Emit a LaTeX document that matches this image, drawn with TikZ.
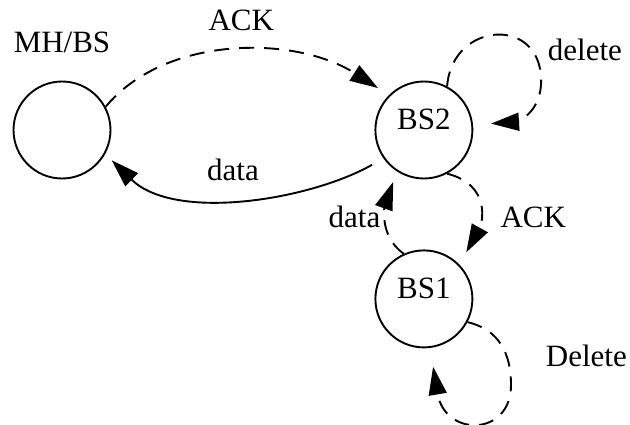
\documentclass[tikz,border=0pt]{standalone}
\usepackage{fontspec}
\setmainfont{Liberation Serif}
\usetikzlibrary{arrows.meta, positioning}

\begin{document}
\begin{tikzpicture}[
    x=1pt, y=-1pt,
    node distance=70pt and 263pt,
    font=\fontsize{31}{36}\selectfont,
    state/.style={draw, circle, line width=1.9pt, minimum size=97pt, inner sep=0pt, text depth=22pt},
    lbl/.style={inner sep=0pt},
    arr/.style={-{Triangle[length=28pt, width=18pt]}, line width=1.9pt},
    dashline/.style={dash pattern=on 15pt off 10pt},
  ]
    \useasboundingbox (0,0) rectangle (630,424);

    \node[state] (mh) at (62,130) {};
    \node[state, right=of mh] (bs2) {BS2};
    \node[state, below=of bs2] (bs1) {BS1};
    \node[lbl, above=28pt of mh] (mhname) {MH/BS};

    \draw[arr, dashline, shorten >=13pt] (mh.28) .. controls (165,35) and (295,35) .. node[lbl, pos=0.5, anchor=base, xshift=7pt, yshift=21pt] (ackmain) {ACK} (bs2.135);
    \draw[arr, shorten <=13pt, shorten >=9pt] (bs2.215) .. controls (310,200) and (175,222) .. node[lbl, pos=0.5, anchor=base, xshift=-10pt, yshift=17pt] (datamain) {data} (mh.-29);
    \draw[arr, dashline, shorten >=18pt] (bs2.62) .. controls (452,20) and (545,15) .. (541,85) node[lbl, anchor=base west, xshift=6pt, yshift=25pt] (deltop) {delete} .. controls (539,115) and (515,122) .. (bs2.6);
    \draw[arr, dashline, shorten >=14pt] (bs2.-62) .. controls (492,185) and (482,224) .. node[lbl, pos=0.5, anchor=base west, xshift=21pt, yshift=-19pt] (ackdown) {ACK} (bs1.44);
    \draw[arr, dashline, shorten >=11pt] (bs1.114) .. controls (377,235) and (386,202) .. node[lbl, pos=0.5, anchor=base east, xshift=-5pt, yshift=-10pt] (dataup) {data} (bs2.-123);
    \draw[arr, dashline, shorten >=19pt] (bs1.-28) .. controls (492,328) and (511,345) .. (511,385) node[lbl, anchor=base west, xshift=34pt, yshift=19pt] (delbottom) {Delete} .. controls (511,437) and (445,437) .. (bs1.-83);
  \end{tikzpicture}
\end{document}
